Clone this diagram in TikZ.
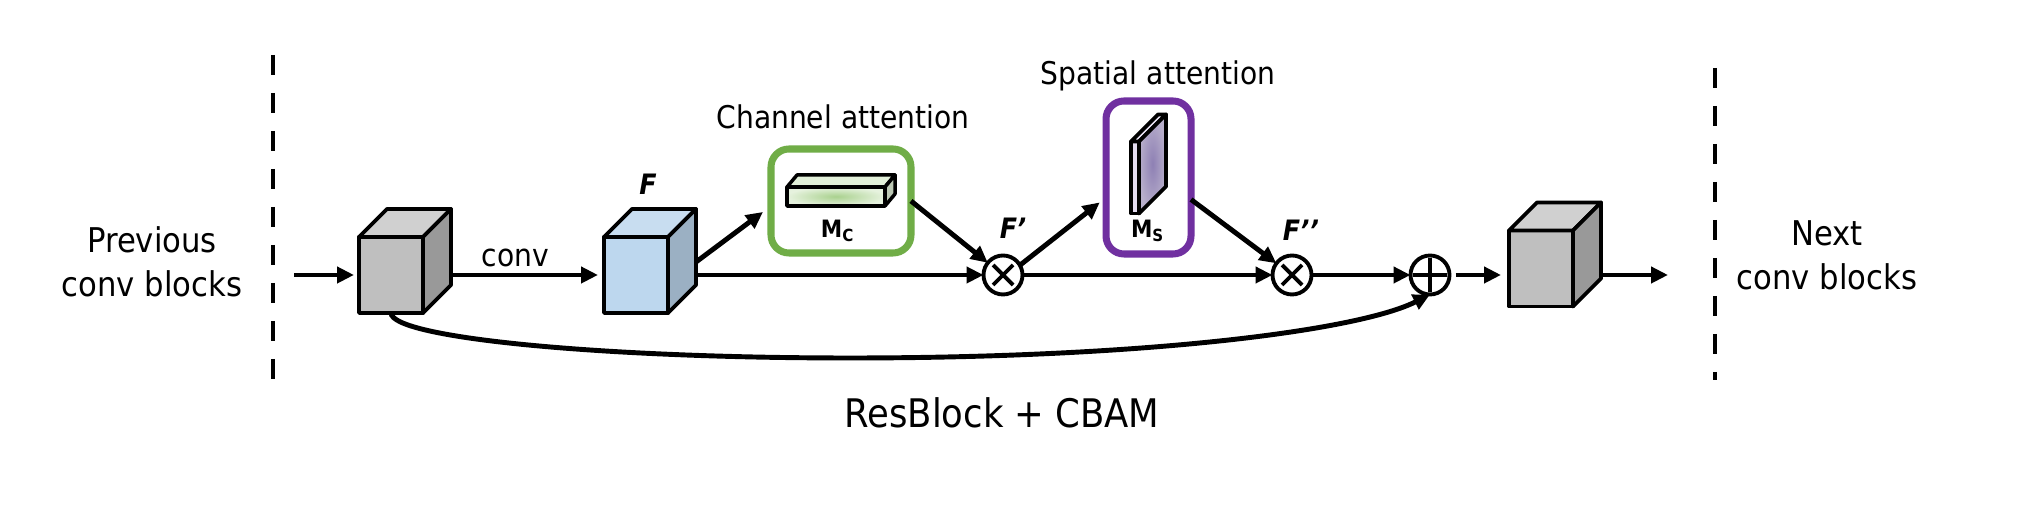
\documentclass[tikz,border=0pt]{standalone}
\usepackage{fontspec}
\setmainfont{DejaVu Sans}[FakeStretch=0.9]
\usepackage{xcolor}
\usepackage{tikz}
\usetikzlibrary{arrows.meta, positioning, calc}
\definecolor{grayfront}{HTML}{BFBFBF}
\definecolor{graytop}{HTML}{D0D0D0}
\definecolor{grayside}{HTML}{999999}
\definecolor{bluefront}{HTML}{BDD7EE}
\definecolor{bluetop}{HTML}{C8DDF0}
\definecolor{blueside}{HTML}{9BB0C3}
\definecolor{chgreen}{HTML}{70AD47}
\definecolor{chanmid}{HTML}{A9D18E}
\definecolor{chanedge}{HTML}{E6F2DE}
\definecolor{chantop}{HTML}{E2F0D9}
\definecolor{chanside}{HTML}{BCC8B4}
\definecolor{sppurple}{HTML}{7030A0}
\definecolor{slabfront}{HTML}{E4DCF0}
\definecolor{slabtop}{HTML}{E8E2F2}
\definecolor{slabmid}{HTML}{8E80B4}
\definecolor{slabedge}{HTML}{B8AFCB}

\begin{document}
\begin{tikzpicture}[x=0.1mm, y=0.1mm,
      >={Triangle[length=4.8pt, width=4.5pt]},
      conn/.style={->, line width=1.4pt},
      cubeface/.style={draw, line width=1.1pt, line join=round},
      cubefront/.style={cubeface, minimum width=6.4mm, minimum height=7.6mm, inner sep=0pt, outer sep=0pt},
      att/.style={draw, line width=2pt, rounded corners=1.8mm, inner sep=0pt, outer sep=0pt},
      opnode/.style={draw, circle, line width=1.1pt, minimum size=3.9mm, inner sep=0pt, outer sep=0pt},
      sym/.style={line width=1.1pt},
      sep/.style={line width=1.4pt, dash pattern=on 2mm off 1.8mm},
      txt/.style={font=\fontsize{9.7}{12.5}\selectfont, align=center, inner sep=0pt},
      midtxt/.style={font=\fontsize{8.9}{11}\selectfont, anchor=base, inner sep=0pt},
      bigtxt/.style={font=\fontsize{11.2}{13}\selectfont, anchor=base, inner sep=0pt},
      flbl/.style={font=\fontsize{8}{10}\selectfont\bfseries\itshape, anchor=base, inner sep=0pt},
      mlbl/.style={font=\fontsize{6.8}{8}\selectfont\bfseries, anchor=base, inner sep=0pt}]
    \useasboundingbox[fill=white] (0,0) rectangle (2022,514);
    % block borders
    \draw[sep] (273,459) -- (273,134);
    \draw[sep] (1715,446) -- (1715,134);
    \node[txt] (prev) at (152,252) {Previous\\conv blocks};
    \node[txt] (next) at (1827,259) {Next\\conv blocks};
    % feature cubes
    \foreach \n/\x/\y/\cf/\ct/\cs in {c1/391/239/grayfront/graytop/grayside,
        cF/636/239/bluefront/bluetop/blueside, c3/1541/245.5/grayfront/graytop/grayside} {
      \node[cubefront, fill=\cf] (\n) at (\x,\y) {};
      \draw[cubeface, fill=\ct] (\n.north west) -- ++(28,28) -- ($(\n.north east)+(28,28)$) -- (\n.north east) -- cycle;
      \draw[cubeface, fill=\cs] (\n.north east) -- ++(28,28) -- ($(\n.south east)+(28,28)$) -- (\n.south east) -- cycle;
      \coordinate (\n-s) at ($(\n.east)+(28,0)$);
    }
    \node[flbl] (tf) at (648,319) {F};
    % attention modules
    \node[att, draw=chgreen, minimum width=14mm, minimum height=10.4mm] (ca) at (841,313) {};
    \node[att, draw=sppurple, minimum width=8.5mm, minimum height=15.3mm] (sa) at (1148.5,336.5) {};
    \node[midtxt] (tca) at (843,385) {Channel attention};
    \node[midtxt] (tsa) at (1158,429) {Spatial attention};
    \node[cubeface, line width=1pt, minimum width=9.8mm, minimum height=1.9mm, inner sep=0pt, outer sep=0pt,
      path picture={\shade[inner color=chanmid, outer color=chanedge] (path picture bounding box.south west) rectangle (path picture bounding box.north east);}] (mc) at (836,317.5) {};
    \draw[cubeface, line width=1pt, fill=chantop] (mc.north west) -- ++(10,12) -- ($(mc.north east)+(10,12)$) -- (mc.north east) -- cycle;
    \draw[cubeface, line width=1pt, fill=chanside] (mc.north east) -- ++(10,12) -- ($(mc.south east)+(10,12)$) -- (mc.south east) -- cycle;
    \node[cubeface, fill=slabfront, minimum width=0.8mm, minimum height=7.2mm, inner sep=0pt, outer sep=0pt] (ms) at (1135,336.5) {};
    \draw[cubeface, fill=slabtop] (ms.north west) -- ++(27,27) -- ($(ms.north east)+(27,27)$) -- (ms.north east) -- cycle;
    \shadedraw[cubeface, inner color=slabmid, outer color=slabedge] (ms.north east) -- ++(27,27) -- ($(ms.south east)+(27,27)$) -- (ms.south east) -- cycle;
    \node[mlbl] (tmc) at (838,276) {M\textsubscript{C}};
    \node[mlbl] (tms) at (1148,276) {M\textsubscript{S}};
    % operators
    \node[opnode] (mul1) at (1003,239) {};
    \node[opnode] (mul2) at (1292,239) {};
    \node[opnode] (add) at (1430,239) {};
    \foreach \m in {mul1, mul2}
      \draw[sym] (\m.center) +(-10,-10) -- +(10,10) +(-10,10) -- +(10,-10);
    \draw[sym] (add.center) +(0,-17) -- +(0,17) +(-17,0) -- +(17,0);
    \node[flbl] (tf1) at (1013,275) {F’};
    \node[flbl] (tf2) at (1301,273) {F’’};
    % connections
    \coordinate (pin) at (294,239);
    \coordinate (pout) at (1668,239);
    \coordinate (low) at (850,156);
    \draw[conn, shorten >=0.5mm] (pin) -- (c1);
    \draw[conn, shorten >=0.6mm] (c1-s) -- node[font=\fontsize{8.9}{11}\selectfont, above=0.6mm, pos=0.42, inner sep=0pt] (tconv) {conv} (cF);
    \draw[conn] (cF-s) -- (mul1);
    \draw[conn, shorten >=1mm] ([yshift=1.3mm]cF-s) -- ([yshift=-0.5mm]ca.west);
    \draw[conn] (ca.east) -- (mul1);
    \draw[conn, shorten >=0.8mm] (mul1.30) -- ([yshift=-2mm]sa.west);
    \draw[conn] ([yshift=-2.2mm]sa.east) -- (mul2);
    \draw[conn] (mul1) -- (mul2);
    \draw[conn] (mul2) -- (add);
    \draw[conn, shorten >=0.8mm, shorten <=0.6mm] (add) -- (c3.west |- add);
    \draw[conn] (c3-s |- add) -- (pout);
    \draw[conn] (c1.south) .. controls (392,176) and (600,156) .. (low) .. controls (1150,156) and (1360,184) .. (add.south);
    \node[bigtxt] (title) at (1002,86) {ResBlock + CBAM};
  \end{tikzpicture}
\end{document}
